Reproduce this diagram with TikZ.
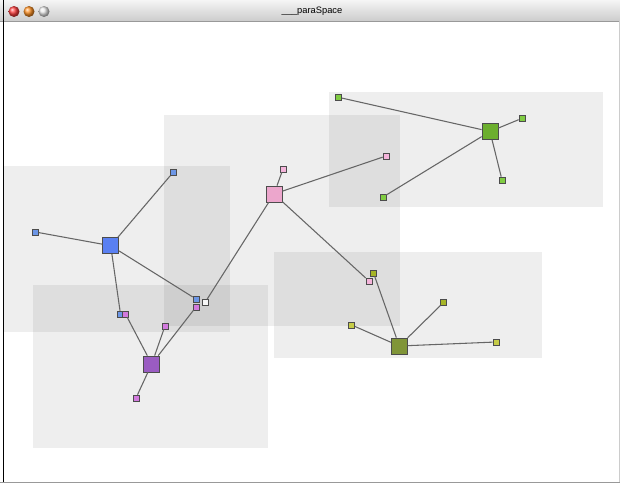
\documentclass[tikz,border=0pt]{standalone}
\usepackage{fontspec}
\setsansfont{Liberation Sans}
\definecolor{hubblue}{HTML}{5A80F2}
\definecolor{leafblue}{HTML}{6C96E6}
\definecolor{hubpurple}{HTML}{9A5CC2}
\definecolor{leafpurple}{HTML}{D27ADE}
\definecolor{hubpink}{HTML}{ECA6CC}
\definecolor{leafpink}{HTML}{F4B4DA}
\definecolor{hubgreen}{HTML}{6CAF2E}
\definecolor{leafgreen}{HTML}{80CC42}
\definecolor{hubolive}{HTML}{809538}
\definecolor{leafolive}{HTML}{C6CC48}
\begin{document}
\begin{tikzpicture}[x=0.75pt,y=-0.75pt,
  zone/.style={fill=black,fill opacity=0.065},
  hub/.style={draw=black!70,line width=0.6pt,minimum size=12pt,inner sep=0pt},
  leaf/.style={draw=black!70,line width=0.5pt,minimum size=4.5pt,inner sep=0pt},
  link/.style={draw=black!60,line width=0.8pt}]

\useasboundingbox (0,0) rectangle (620,483);
\fill[white] (0,0) rectangle (620,483);

% window frame
\shade[top color=black!4,bottom color=black!20] (0,0) rectangle (620,21);
\draw[black!40] (0,21) -- (620,21);
\draw[black,line width=1pt] (3.5,0) -- (3.5,483);
\draw[black!40] (0,482) -- (620,482);
\draw[black!20] (619,21) -- (619,482);
\shade[ball color=red!75] (14,11.5) circle (5.5);
\shade[ball color=orange!85] (29,11.5) circle (5.5);
\shade[ball color=black!8] (44,11.5) circle (5.5);
\draw (312,11) node (title) {\sffamily\fontsize{7}{8}\selectfont \_\_\_paraSpace};

% zones
\fill[zone] (4,166) rectangle (230,332);
\fill[zone] (33,285) rectangle (268,448);
\fill[zone] (164,115) rectangle (400,326);
\fill[zone] (329,92) rectangle (603,207);
\fill[zone] (274,252) rectangle (542,358);

% blue
\draw (110.7,245.7) node[hub,fill=hubblue] (b0) {};
\draw (35.5,232) node[leaf,fill=leafblue] (b1) {};
\draw (173,172.5) node[leaf,fill=leafblue] (b2) {};
\draw (196,299) node[leaf,fill=leafblue] (b3) {};
\draw (120.5,314) node[leaf,fill=leafblue] (b4) {};

% purple
\draw (151.7,364) node[hub,fill=hubpurple] (v0) {};
\draw (125.5,314) node[leaf,fill=leafpurple] (v1) {};
\draw (165,326) node[leaf,fill=leafpurple] (v2) {};
\draw (196,307) node[leaf,fill=leafpurple] (v3) {};
\draw (136,398) node[leaf,fill=leafpurple] (v4) {};

% pink
\draw (274,194) node[hub,fill=hubpink] (p0) {};
\draw (283,169) node[leaf,fill=leafpink] (p1) {};
\draw (386,156) node[leaf,fill=leafpink] (p2) {};
\draw (205,302.5) node[leaf,fill=black!3] (p3) {};
\draw (369,281) node[leaf,fill=leafpink] (p4) {};

% green
\draw (490,131.5) node[hub,fill=hubgreen] (g0) {};
\draw (338.5,97.3) node[leaf,fill=leafgreen] (g1) {};
\draw (522,118.3) node[leaf,fill=leafgreen] (g2) {};
\draw (502,180) node[leaf,fill=leafgreen] (g3) {};
\draw (383,197) node[leaf,fill=leafgreen] (g4) {};

% olive
\draw (399.3,346) node[hub,fill=hubolive] (o0) {};
\draw (373.5,273) node[leaf,fill=hubolive!70!yellow] (o1) {};
\draw (351.7,325) node[leaf,fill=leafolive] (o2) {};
\draw (443.7,302.3) node[leaf,fill=hubolive!70!yellow] (o3) {};
\draw (496,342) node[leaf,fill=leafolive] (o4) {};

% links
\foreach \h in {b,v,p,g,o}
  \foreach \i in {1,...,4}
    \draw[link] (\h0) -- (\h\i);

\end{tikzpicture}
\end{document}
